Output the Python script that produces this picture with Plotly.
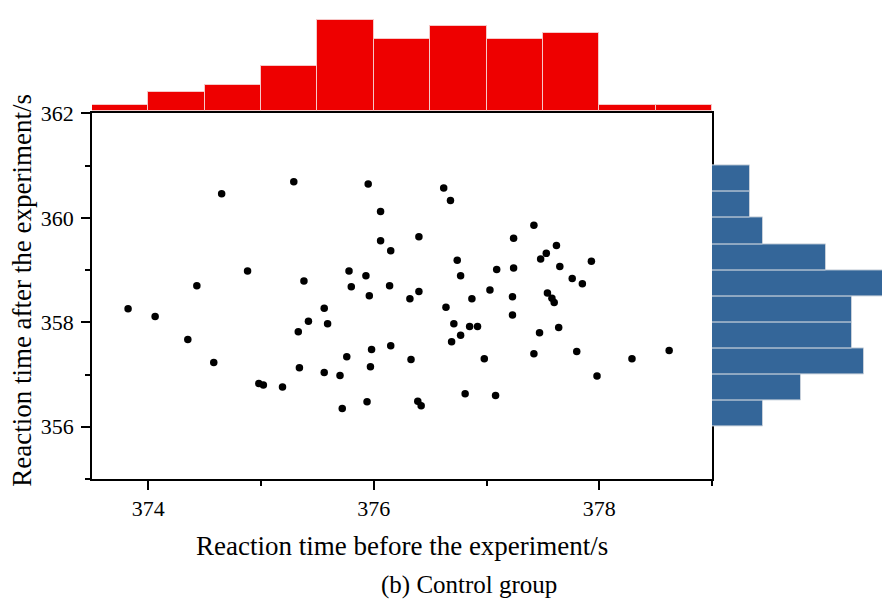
import plotly.graph_objects as go

# Reaction time before the experiment (s) - x values of the control group
before = [374.65, 375.29, 375.95, 376.06, 376.06, 376.15, 374.88, 374.43, 375.38, 375.78,
          375.93, 375.80, 376.14, 375.96, 376.32, 376.62, 376.68, 377.42, 376.40, 377.24,
          376.74, 377.48, 377.53, 377.62, 377.93, 376.77, 377.09, 377.24, 377.65, 377.76,
          377.85, 376.40, 376.87, 377.03, 377.23, 377.54, 377.58, 377.60, 373.82, 374.06,
          374.35, 374.58, 374.98, 375.02, 375.19, 375.33, 375.42, 375.56, 375.59, 375.34,
          375.56, 375.70, 375.72, 375.76, 375.94, 375.97, 375.98, 376.15, 376.33, 376.64,
          377.23, 376.71, 376.85, 376.92, 376.77, 376.69, 377.47, 377.64, 376.98, 377.42,
          377.80, 378.29, 378.62, 377.98, 376.81, 377.08, 376.39, 376.42]
# Reaction time after the experiment (s)
after = [360.46, 360.69, 360.65, 360.12, 359.56, 359.37, 358.98, 358.70, 358.79, 358.98,
         358.89, 358.68, 358.70, 358.51, 358.45, 360.57, 360.33, 359.86, 359.64, 359.61,
         359.19, 359.21, 359.32, 359.47, 359.17, 358.89, 359.01, 359.04, 359.07, 358.84,
         358.74, 358.59, 358.45, 358.62, 358.49, 358.56, 358.46, 358.38, 358.26, 358.11,
         357.67, 357.23, 356.83, 356.80, 356.76, 357.82, 358.02, 358.27, 357.97, 357.13,
         357.04, 356.98, 356.35, 357.34, 356.48, 357.15, 357.48, 357.55, 357.29, 358.29,
         358.14, 357.97, 357.92, 357.92, 357.75, 357.63, 357.80, 357.90, 357.30, 357.40,
         357.44, 357.30, 357.46, 356.97, 356.63, 356.60, 356.49, 356.40]

FONT = "Liberation Serif"

L, R, T, B = 92, 0, 0, 127
W, H = 882, 606
PW, PH = W - L - R, H - T - B


def px_x(px):
    return (px - L) / PW


def px_y(py):
    return (H - B - py) / PH


fig = go.Figure()

fig.add_trace(go.Scatter(
    x=before, y=after, mode="markers",
    marker=dict(color="black", size=7.5, line=dict(width=0)),
    xaxis="x", yaxis="y", showlegend=False,
))

fig.add_trace(go.Histogram(
    x=before, xbins=dict(start=373.5, end=379.0, size=0.5),
    marker=dict(color="#ee0000", line=dict(color="#f6c8c8", width=1)),
    xaxis="x3", yaxis="y3", showlegend=False,
))

fig.add_trace(go.Histogram(
    y=after, ybins=dict(start=356.0, end=361.0, size=0.5),
    marker=dict(color="#346699", line=dict(color="#c8d0da", width=1)),
    xaxis="x2", yaxis="y2", showlegend=False,
))

xr = [373.5, 379.0]
yr = [355.0, 362.0]
xdom = [0, px_x(712)]
ydom = [0, px_y(104)]

axis_common = dict(
    showgrid=False, zeroline=False, showline=True, linecolor="black", linewidth=1.5,
    mirror=True, ticks="outside", ticklen=9, tickwidth=1.5, tickcolor="black",
    tickfont=dict(family=FONT, size=22, color="black"),
    minor=dict(ticks="outside", ticklen=5, tickwidth=1.5, tickcolor="black", dtick=1),
)

fig.update_layout(
    width=W, height=H,
    margin=dict(l=L, r=R, t=T, b=B, pad=0),
    paper_bgcolor="white", plot_bgcolor="white",
    bargap=0,
    xaxis=dict(domain=xdom, range=xr, dtick=2, tick0=374, anchor="y",
               ticklabelstandoff=0, **axis_common),
    yaxis=dict(domain=ydom, range=yr, dtick=2, tick0=356, anchor="x",
               ticklabelstandoff=3, **axis_common),
    xaxis2=dict(domain=[px_x(712), 1.0], range=[0, 13.4], visible=False, anchor="y2"),
    yaxis2=dict(domain=ydom, range=yr, visible=False, anchor="x2"),
    xaxis3=dict(domain=xdom, range=xr, visible=False, anchor="y3"),
    yaxis3=dict(domain=[px_y(102), 1.0], range=[0, 15.2], visible=False, anchor="x3"),
    annotations=[
        dict(text="Reaction time before the experiment/s", xref="paper", yref="paper",
             x=px_x(402), y=px_y(548), showarrow=False, xanchor="center", yanchor="middle",
             font=dict(family=FONT, size=27, color="black")),
        dict(text="Reaction time after the experiment/s", xref="paper", yref="paper",
             x=px_x(22), y=px_y(286), showarrow=False, xanchor="center", yanchor="middle",
             textangle=-90, font=dict(family=FONT, size=27, color="black")),
        dict(text="(b) Control group", xref="paper", yref="paper",
             x=px_x(469), y=px_y(588), showarrow=False, xanchor="center", yanchor="middle",
             font=dict(family=FONT, size=25, color="black")),
    ],
)

fig.write_html(
    "out.html",
    config={"displayModeBar": False},
    post_script="document.body.style.margin='0';document.body.style.overflow='hidden';",
)
